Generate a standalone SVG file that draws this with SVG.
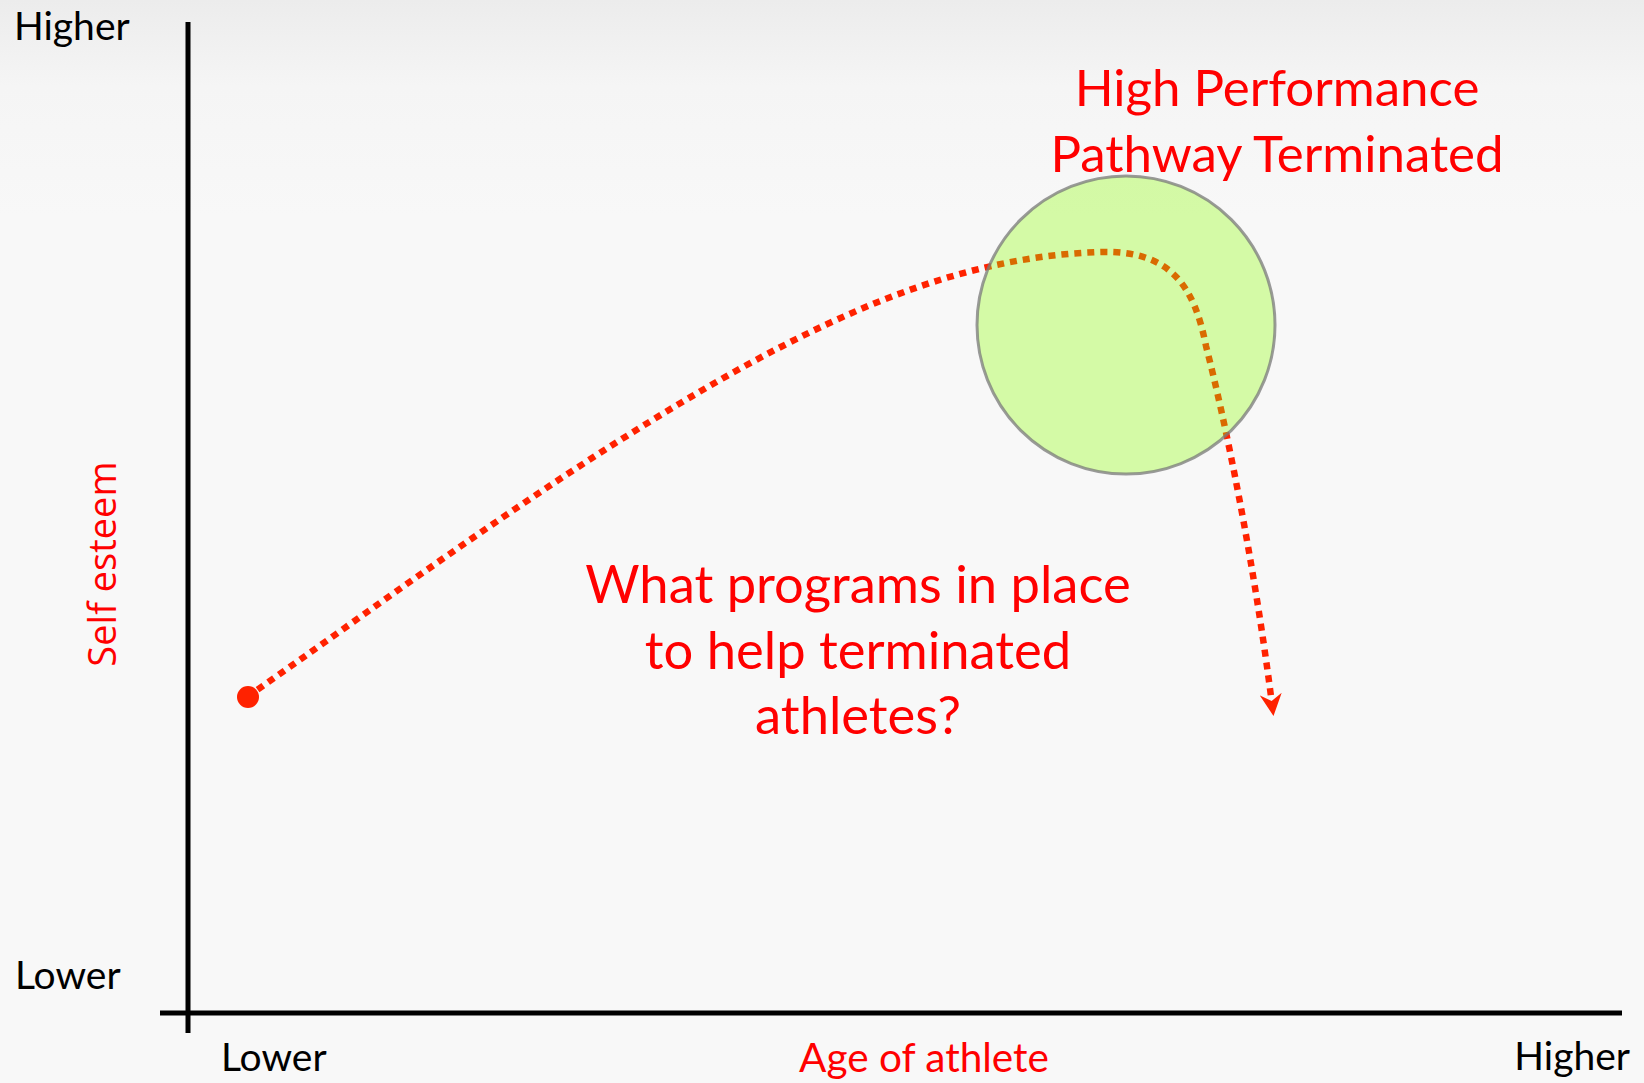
<svg xmlns="http://www.w3.org/2000/svg" width="1644" height="1083" viewBox="0 0 1644 1083">
<defs>
<linearGradient id="bg" x1="0" y1="0" x2="0" y2="1">
<stop offset="0" stop-color="#ececec"/>
<stop offset="0.08" stop-color="#f5f5f5"/>
<stop offset="0.2" stop-color="#f8f8f8"/>
<stop offset="1" stop-color="#f8f8f8"/>
</linearGradient>
<marker id="arrow" viewBox="0 0 22 22" refX="18" refY="11" markerWidth="22" markerHeight="22" markerUnits="userSpaceOnUse" orient="auto">
<path d="M0,0 L22,11 L0,22 L7,11 Z" fill="#ff2200"/>
</marker>
<style>
.blk{font-family:Lato,"Open Sans",sans-serif;fill:#000;font-size:39px}
.red{font-family:Lato,"Open Sans",sans-serif;fill:#ff0000}
.big{font-size:51px}
.axis{stroke:#000;stroke-width:5;fill:none}
</style>
</defs>
<rect width="1644" height="1083" fill="url(#bg)"/>
<g id="axes">
<line class="axis" x1="188" y1="22" x2="188" y2="1033"/>
<line class="axis" x1="160" y1="1013" x2="1622" y2="1013"/>
</g>
<g id="labels">
<text class="blk" x="14" y="40">Higher</text>
<text class="blk" x="15" y="989" font-size="40">Lower</text>
<text class="blk" x="221" y="1071" font-size="41">Lower</text>
<text class="blk" x="1630" y="1070" text-anchor="end">Higher</text>
<text class="red" x="924" y="1072" font-size="40.5" text-anchor="middle">Age of athlete</text>
<text x="116" y="564" font-family="'Open Sans','Noto Sans',sans-serif" font-size="38" fill="#ff0000" text-anchor="middle" transform="rotate(-90 116 564)">Self esteem</text>
</g>
<g id="connectors">
<path d="M247,697 C400,590 560,470 734,372 C860,302 975,256 1100,252 C1170,250 1194,285 1206,346 C1225,420 1254,560 1273,712" fill="none" stroke="#ff2200" stroke-width="6.5" stroke-dasharray="7 6" marker-end="url(#arrow)"/>
<circle cx="248" cy="697" r="11" fill="#ff2200"/>
</g>
<g id="circle-node">
<circle cx="1126" cy="325" r="149" fill="#8cff00" fill-opacity="0.33" stroke="#7a7a7a" stroke-opacity="0.75" stroke-width="3"/>
</g>
<g id="title-node">
<text class="red big" x="1277" y="106" text-anchor="middle">High Performance</text>
<text class="red big" x="1277" y="172" text-anchor="middle">Pathway Terminated</text>
</g>
<g id="question-node">
<text class="red" font-size="52.5" x="858" y="603" text-anchor="middle">What programs in place</text>
<text class="red" font-size="52.5" x="858" y="669" text-anchor="middle">to help terminated</text>
<text class="red" font-size="52.5" x="858" y="734" text-anchor="middle">athletes?</text>
</g>
</svg>
